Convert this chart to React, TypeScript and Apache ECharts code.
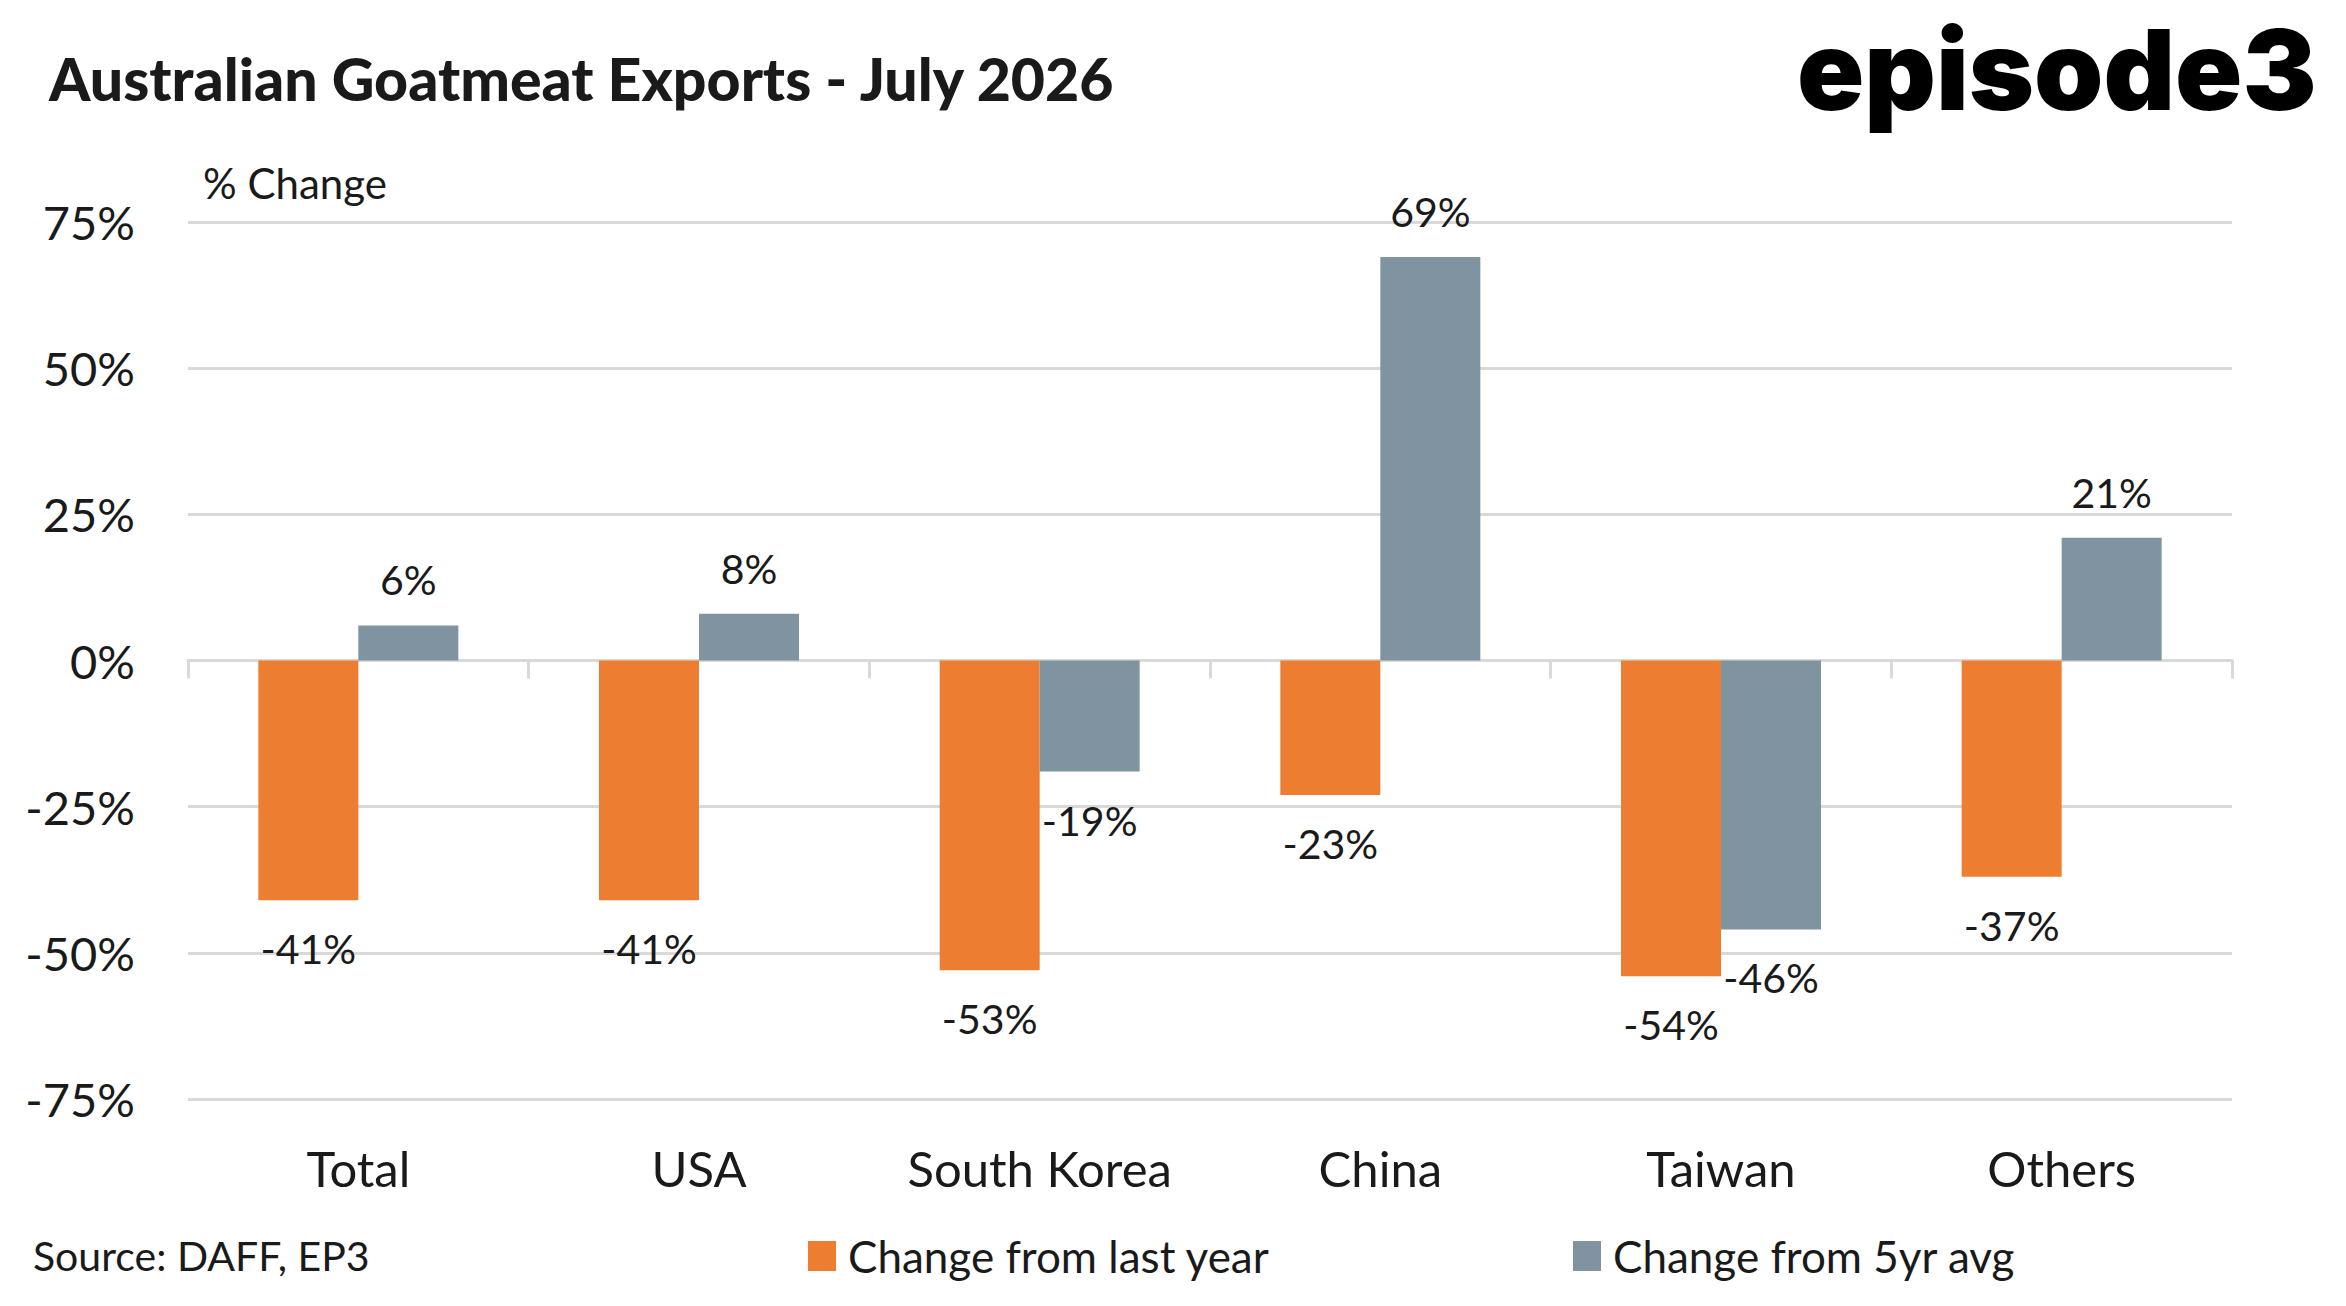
import React, { useRef, useEffect } from 'react'
import * as echarts from 'echarts'

const categories = ['Total', 'USA', 'South Korea', 'China', 'Taiwan', 'Others']
const lastYearChange = [-41, -41, -53, -23, -54, -37]
const fiveYearAvgChange = [6, 8, -19, 69, -46, 21]
const seriesNames = ['Change from last year', 'Change from 5yr avg']

const ORANGE = '#ED7D31'
const SLATE = '#7F94A0'
const GRID = '#d9d9d9'
const TEXT = '#1a1a1a'
const FONT = 'Lato'

// label sits above positive bars and below negative ones
const withLabels = (values: number[]) =>
  values.map(v => ({
    value: v,
    label: {
      position: v >= 0 ? 'top' : 'bottom',
      distance: v >= 0 ? 25 : 28
    }
  }))

const App: React.FC = () => {
  const chartRef = useRef<HTMLDivElement>(null)

  useEffect(() => {
    if (!chartRef.current) return
    const chart = echarts.init(chartRef.current, undefined, { renderer: 'svg' })

    const barLabel = {
      show: true,
      formatter: '{c}%',
      color: TEXT,
      fontFamily: FONT,
      fontSize: 41
    }

    const legendText = { color: TEXT, fontFamily: FONT, fontSize: 44, padding: [0, 0, 0, 7] }

    const option = {
      animation: false,
      backgroundColor: '#ffffff',
      textStyle: { fontFamily: FONT },
      title: {
        text: 'Australian Goatmeat Exports - July 2026',
        left: 44,
        top: 44,
        textStyle: {
          color: TEXT,
          fontFamily: FONT,
          fontSize: 59,
          fontWeight: 900
        }
      },
      legend: [
        {
          data: [seriesNames[0]],
          left: 803,
          top: 1229,
          icon: 'rect',
          itemWidth: 28,
          itemHeight: 30,
          selectedMode: false,
          textStyle: legendText
        },
        {
          data: [seriesNames[1]],
          left: 1568,
          top: 1229,
          icon: 'rect',
          itemWidth: 28,
          itemHeight: 30,
          selectedMode: false,
          textStyle: legendText
        }
      ],
      grid: {
        left: 188,
        right: 114,
        top: 222,
        bottom: 207
      },
      xAxis: [
        {
          type: 'category',
          data: categories,
          position: 'bottom',
          axisLine: { show: false, onZero: false },
          axisTick: { show: false },
          axisLabel: {
            interval: 0,
            color: TEXT,
            fontFamily: FONT,
            fontSize: 49,
            margin: 44
          },
          splitLine: { show: false }
        },
        {
          type: 'category',
          data: categories,
          position: 'bottom',
          axisLine: { show: true, onZero: true, lineStyle: { color: GRID, width: 3 } },
          axisTick: { show: true, interval: 0, length: 18, lineStyle: { color: GRID, width: 3 } },
          axisLabel: { show: false },
          splitLine: { show: false }
        }
      ],
      yAxis: {
        type: 'value',
        min: -75,
        max: 75,
        interval: 25,
        axisLine: { show: false },
        axisTick: { show: false },
        axisLabel: {
          color: TEXT,
          fontFamily: FONT,
          fontSize: 47,
          margin: 53,
          formatter: '{value}%'
        },
        splitLine: { lineStyle: { color: GRID, width: 3 } }
      },
      series: [
        {
          name: seriesNames[0],
          type: 'bar',
          xAxisIndex: 0,
          data: withLabels(lastYearChange),
          barWidth: 100,
          barGap: '0%',
          itemStyle: { color: ORANGE },
          label: barLabel
        },
        {
          name: seriesNames[1],
          type: 'bar',
          xAxisIndex: 0,
          data: withLabels(fiveYearAvgChange),
          barWidth: 100,
          barGap: '0%',
          itemStyle: { color: SLATE },
          label: barLabel
        }
      ],
      graphic: [
        {
          type: 'text',
          left: 203,
          top: 162,
          style: { text: '% Change', fill: TEXT, font: `42px ${FONT}` }
        },
        {
          type: 'text',
          left: 33,
          top: 1235,
          style: { text: 'Source: DAFF, EP3', fill: TEXT, font: `41px ${FONT}` }
        },
        {
          type: 'text',
          left: 1797,
          top: 14,
          style: { text: 'episode3', fill: '#000000', font: `900 111px Inter` }
        }
      ]
    }

    chart.setOption(option)

    return () => {
      chart.dispose()
    }
  }, [])

  return (
    <div
      ref={chartRef}
      style={{ position: 'absolute', left: 0, top: 0, width: 2346, height: 1306 }}
    />
  )
}

export default App
